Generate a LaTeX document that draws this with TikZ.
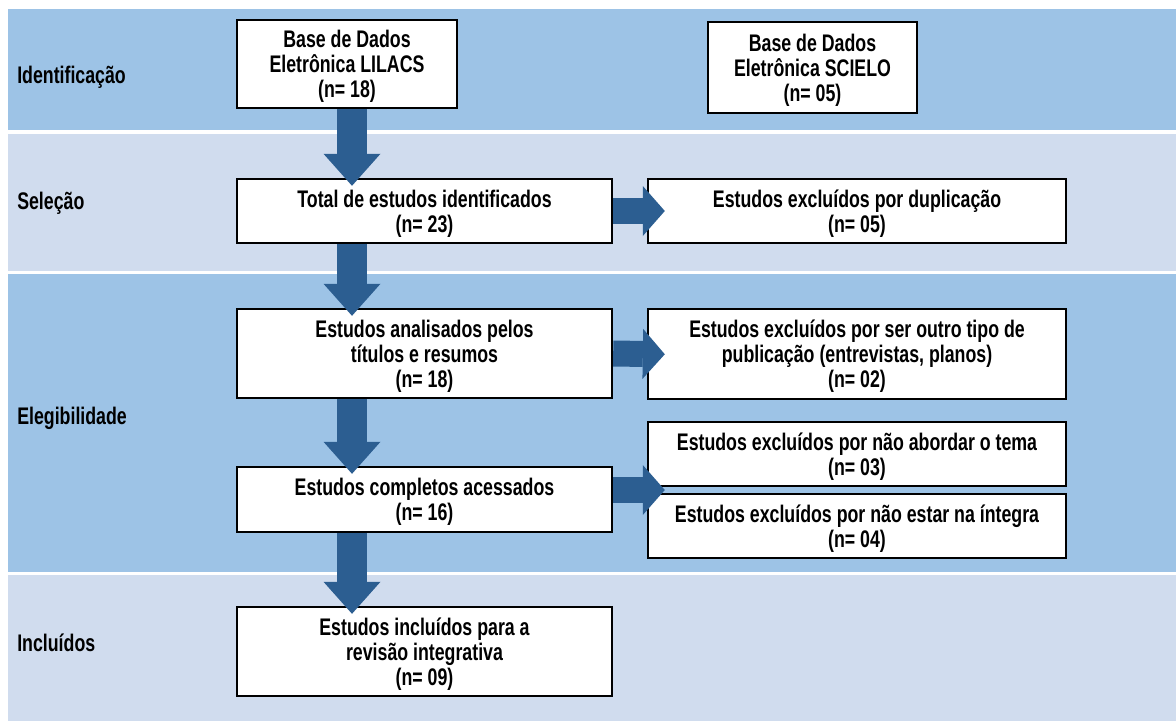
\documentclass[tikz,border=0pt]{standalone}
\usepackage{fontspec}
\setmainfont{Liberation Sans}[FakeStretch=0.74]
\usetikzlibrary{arrows.meta,calc}

\definecolor{banddark}{HTML}{9DC3E6}
\definecolor{bandlight}{HTML}{D0DCEE}
\definecolor{arrowblue}{HTML}{2C5E91}

\tikzset{
  stage/.style={draw=black, line width=1.8pt, fill=white, align=center,
    inner sep=0pt, text depth=-2pt, font=\bfseries\fontsize{18pt}{18.75pt}\selectfont},
  phase/.style={anchor=west, inner sep=0pt,
    font=\bfseries\fontsize{18pt}{18.75pt}\selectfont},
  downarrow/.style={arrowblue, line width=22.5pt, shorten >=-6pt,
    -{Triangle[length=24pt 0 0, width=42.75pt 0 0, line width=0pt 0 0]}},
  sidearrow/.style={arrowblue, line width=19.5pt, shorten >=-13.5pt,
    -{Triangle[length=16.5pt 0 0, width=37.5pt 0 0, line width=0pt 0 0]}}
}

\begin{document}
\begin{tikzpicture}[x=0.75pt, y=-0.75pt]
    \useasboundingbox (0,0) rectangle (1176,724);
    %Bands
    \fill[banddark] (8,9) rectangle (1176,130);
    \fill[bandlight] (8,134) rectangle (1176,271);
    \fill[banddark] (8,274) rectangle (1176,572);
    \fill[bandlight] (8,575) rectangle (1176,721);
    \node[phase] (ident) at (17,77) {Identificação};
    \node[phase] (selec) at (17,203) {Seleção};
    \node[phase] (elegi) at (17,418) {Elegibilidade};
    \node[phase] (inclu) at (17,643) {Incluídos};
    %Boxes
    \node[stage, minimum width=165pt, minimum height=66pt] (lilacs) at (347,64)
        {Base de Dados\\Eletrônica LILACS\\(n= 18)};
    \node[stage, minimum width=156.75pt, minimum height=68.25pt] (scielo) at (812.5,67.5)
        {Base de Dados\\Eletrônica SCIELO\\(n= 05)};
    \node[stage, minimum width=281.25pt, minimum height=48pt] (total) at (424.5,211)
        {Total de estudos identificados\\(n= 23)};
    \node[stage, minimum width=313.5pt, minimum height=48pt] (dupl) at (857,211)
        {Estudos excluídos por duplicação\\(n= 05)};
    \node[stage, minimum width=281.25pt, minimum height=66.75pt] (anal) at (424.5,353.5)
        {Estudos analisados pelos\\títulos e resumos\\(n= 18)};
    \node[stage, minimum width=313.5pt, minimum height=67.5pt] (outro) at (857,354)
        {Estudos excluídos por ser outro tipo de\\publicação (entrevistas, planos)\\(n= 02)};
    \node[stage, minimum width=281.25pt, minimum height=48.75pt] (compl) at (424.5,499.5)
        {Estudos completos acessados\\(n= 16)};
    \node[stage, minimum width=313.5pt, minimum height=48pt] (abord) at (857,454)
        {Estudos excluídos por não abordar o tema\\(n= 03)};
    \node[stage, minimum width=313.5pt, minimum height=48pt] (integ) at (857,526)
        {Estudos excluídos por não estar na íntegra\\(n= 04)};
    \node[stage, minimum width=281.25pt, minimum height=66.75pt] (incl) at (424.5,651.5)
        {Estudos incluídos para a\\revisão integrativa\\(n= 09)};
    %Arrows
    \coordinate (axis) at (352,0);
    \coordinate (gap) at ($(abord.south west)!0.5!(integ.north west)$);
    \draw[downarrow] (lilacs.south -| axis) -- (total.north -| axis);
    \draw[downarrow] (total.south -| axis) -- (anal.north -| axis);
    \draw[downarrow] (anal.south -| axis) -- (compl.north -| axis);
    \draw[downarrow] (compl.south -| axis) -- (incl.north -| axis);
    \draw[sidearrow] (total.east) -- (dupl.west);
    \draw[sidearrow] (anal.east) -- (outro.west);
    \draw[sidearrow] (compl.east |- gap) -- (gap);
\end{tikzpicture}
\end{document}
